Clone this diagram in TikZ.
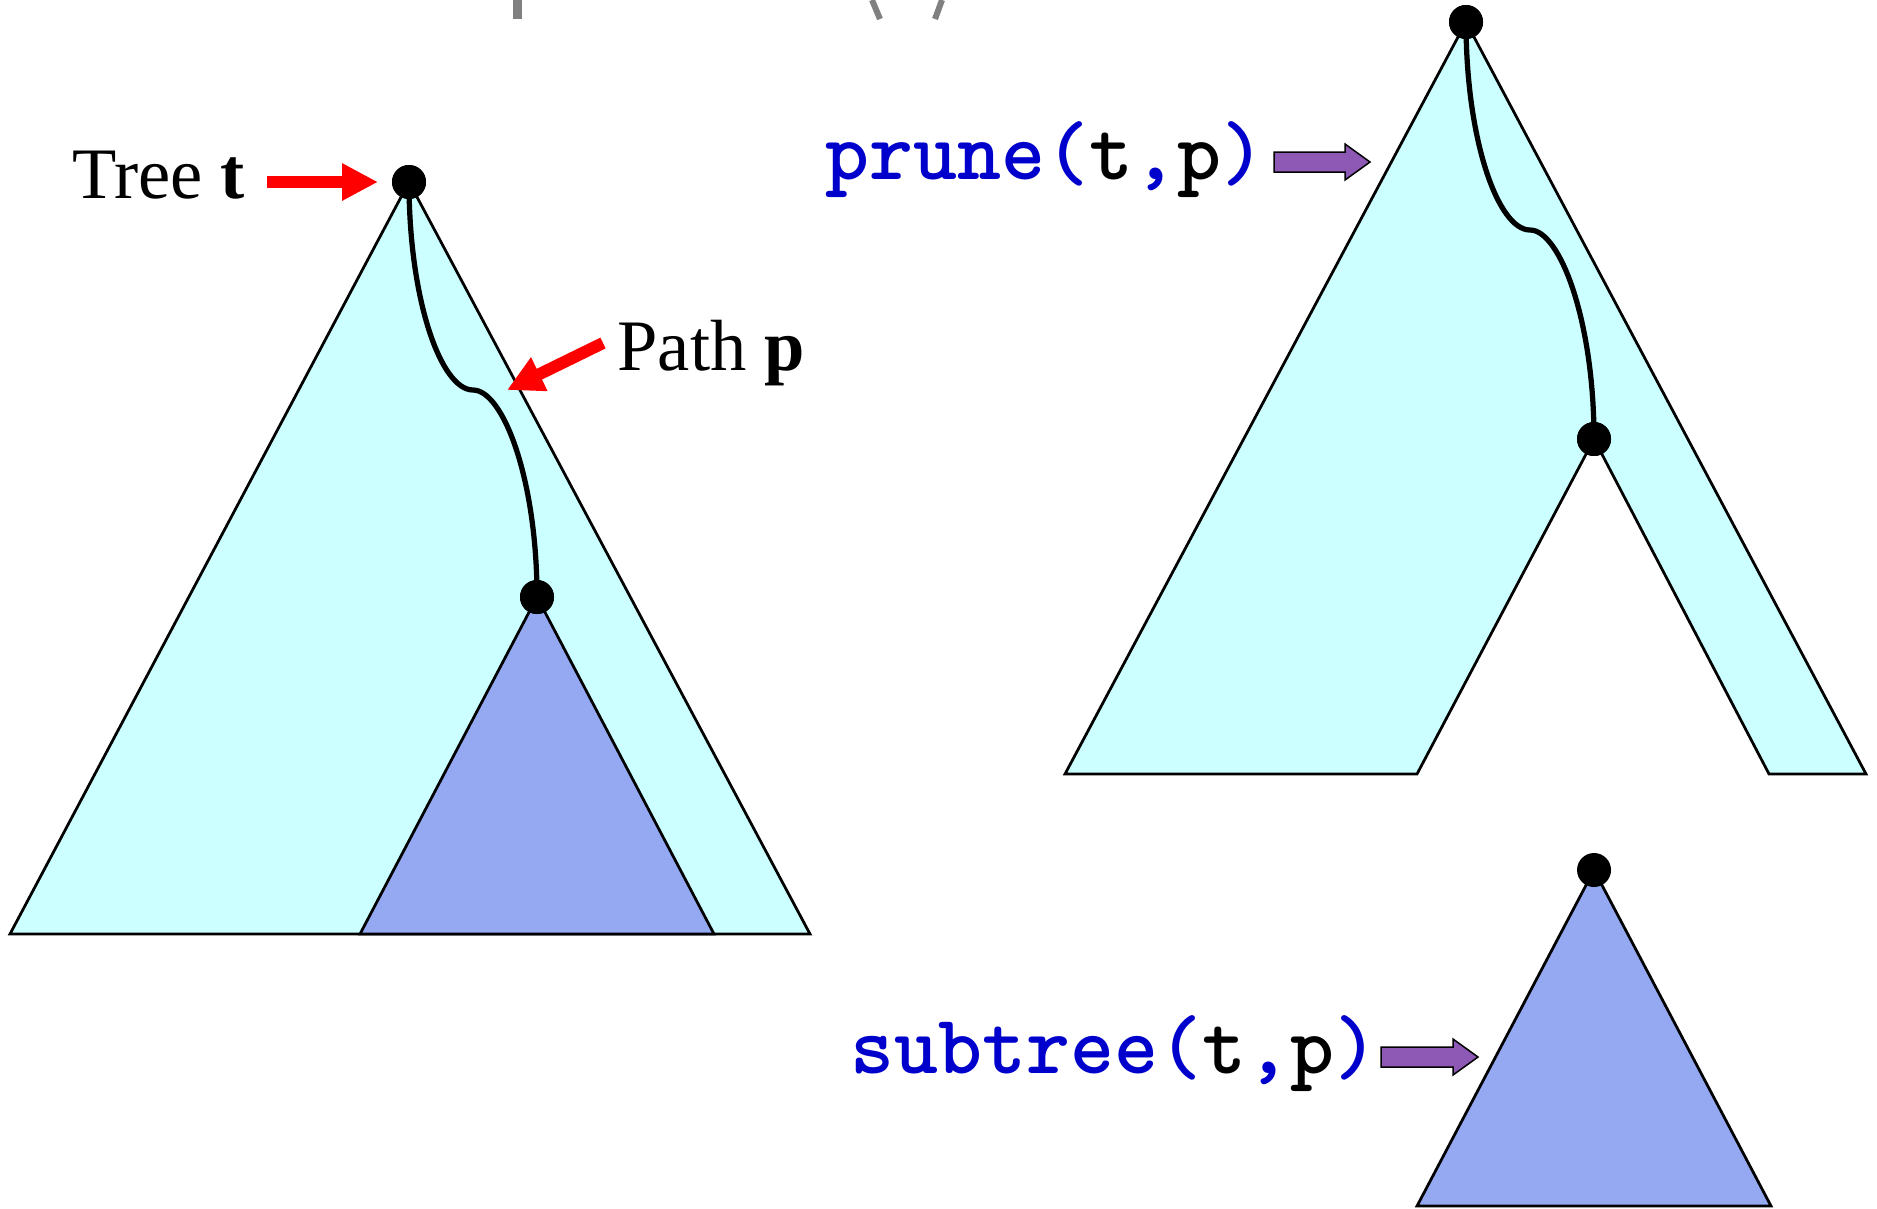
\documentclass[tikz,border=0pt]{standalone}
\usepackage{fontspec}
\setmainfont{Liberation Serif}
\usetikzlibrary{arrows.meta}
\definecolor{cyanfill}{HTML}{CCFFFF}
\definecolor{subfill}{HTML}{94A9F2}
\definecolor{codeblue}{HTML}{0000CC}
\definecolor{purp}{HTML}{8E58B5}
\definecolor{titlegrey}{HTML}{808080}
\tikzset{
  treeedge/.style={draw=black, line width=1.1pt, line join=miter},
  pathcurve/.style={draw=black, line width=2.1pt},
  treedot/.style={circle, fill=black, inner sep=0pt, minimum size=13.6pt},
  redarrow/.style={draw=red, line width=4.8pt, -{Triangle[length=14.4pt,width=14pt]}},
  purparrow/.style={fill=purp, draw=black, line width=0.6pt, line join=miter},
  seriflabel/.style={anchor=base west, inner sep=0pt, font=\fontsize{29pt}{34pt}\selectfont},
  codelabel/.style={anchor=base west, inner sep=0pt, font=\ttfamily\bfseries\fontsize{33.5pt}{38pt}\selectfont, text=codeblue},
}
\begin{document}
\begin{tikzpicture}[x=0.4pt, y=-0.4pt]
\useasboundingbox (0,0) rectangle (1877,1208);
% cut-off grey title fragments
\fill[titlegrey] (513,0) rectangle (522,19);
\draw[titlegrey, line width=2.4pt] (872,0) -- (880,19);
\draw[titlegrey, line width=2.4pt] (942,0) -- (935,19);

% ---------- left: tree t with path p ----------
\filldraw[treeedge, fill=cyanfill] (409,182) -- (810,934) -- (10,934) -- cycle;
\filldraw[treeedge, fill=subfill] (537,597) -- (714,934) -- (360,934) -- cycle;
\node[treedot] (rootL) at (409,182) {};
\node[treedot] (subL) at (537,597) {};
\coordinate (midL) at (473,390);
\draw[pathcurve] (rootL.center) .. controls +(0,118) and +(-32,0) .. (midL)
                 .. controls +(30,0) and +(0,-118) .. (subL.center);
\node[treedot] at (rootL) {};
\node[treedot] at (subL) {};

\node[seriflabel] (treelbl) at (72,198) {Tree \textbf{t}};
\node[seriflabel] (pathlbl) at (617,370) {Path \textbf{p}};
\coordinate (treeTip) at (378,182);
\coordinate (pathTip) at (507,390);
\draw[redarrow] (treelbl.east |- treeTip) ++(21,0) coordinate (treeTail) -- (treeTip);
\draw[redarrow] (603,343) coordinate (pathTail) -- (pathTip);

% ---------- right top: prune(t,p) ----------
\filldraw[treeedge, fill=cyanfill] (1065,774) -- (1466,22) -- (1866,774) -- (1769,774)
   -- (1594,439) -- (1417,774) -- cycle;
\node[treedot] (rootR) at (1466,22) {};
\node[treedot] (cutR) at (1594,439) {};
\coordinate (midR) at (1530,230);
\draw[pathcurve] (rootR.center) .. controls +(0,118) and +(-32,0) .. (midR)
                 .. controls +(30,0) and +(0,-118) .. (cutR.center);
\node[treedot] at (rootR) {};
\node[treedot] at (cutR) {};

\node[codelabel] (prunelbl) at (825,179) {prune(\textcolor{black}{t},\textcolor{black}{p})};
\coordinate (pruneTail) at (1274,162);
\path[purparrow] (pruneTail) ++(0,-10) -- ++(71,0) -- ++(0,-8) -- ++(25,18)
   -- ++(-25,18) -- ++(0,-8) -- ++(-71,0) -- cycle;

% ---------- right bottom: subtree(t,p) ----------
\filldraw[treeedge, fill=subfill] (1594,870) -- (1771,1206) -- (1417,1206) -- cycle;
\node[treedot] (rootS) at (1594,870) {};

\node[codelabel] (subtreelbl) at (850,1073) {subtree(\textcolor{black}{t},\textcolor{black}{p})};
\coordinate (subTail) at (1381,1057);
\path[purparrow] (subTail) ++(0,-10) -- ++(72,0) -- ++(0,-8) -- ++(25,18)
   -- ++(-25,18) -- ++(0,-8) -- ++(-72,0) -- cycle;
\end{tikzpicture}
\end{document}
